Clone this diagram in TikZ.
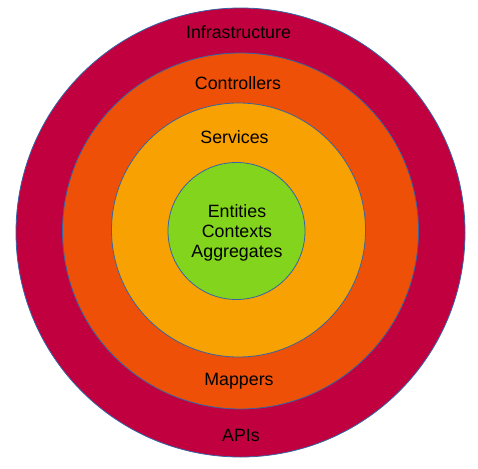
\documentclass[tikz,border=0pt]{standalone}
\usepackage{fontspec}
\setmainfont{Liberation Sans}
\definecolor{infra}{HTML}{C0003F}
\definecolor{ctrl}{HTML}{EE5007}
\definecolor{serv}{HTML}{F8A102}
\definecolor{ent}{HTML}{83D41C}
\definecolor{edge}{HTML}{3465A4}
\tikzset{
  ring/.style={circle, draw=edge, line width=0.8pt, inner sep=0pt},
  lbl/.style={font=\fontsize{17.8}{20}\selectfont, text=black, align=center, inner sep=0pt}
}
\begin{document}
\begin{tikzpicture}[x=1pt,y=-1pt]
\useasboundingbox (0,0) rectangle (478,468);
\node[ring, fill=infra, minimum size=449pt] (infra) at (240.5,232.5) {};
\node[ring, fill=ctrl, minimum size=356pt] (ctrl) at (240.5,231) {};
\node[ring, fill=serv, minimum size=254pt] (serv) at (238.5,230) {};
\node[ring, fill=ent, minimum size=137pt] (ent) at (236.5,231) {};
\node[lbl] (tinfra) at (238.5,32) {Infrastructure};
\node[lbl] (tctrl) at (238,83) {Controllers};
\node[lbl] (tserv) at (234.5,137) {Services};
\node[lbl] (tent) at (237,232.5) {Entities\\Contexts\\Aggregates};
\node[lbl] (tmap) at (239,381) {Mappers};
\node[lbl] (tapi) at (241,435) {APIs};
\end{tikzpicture}
\end{document}
